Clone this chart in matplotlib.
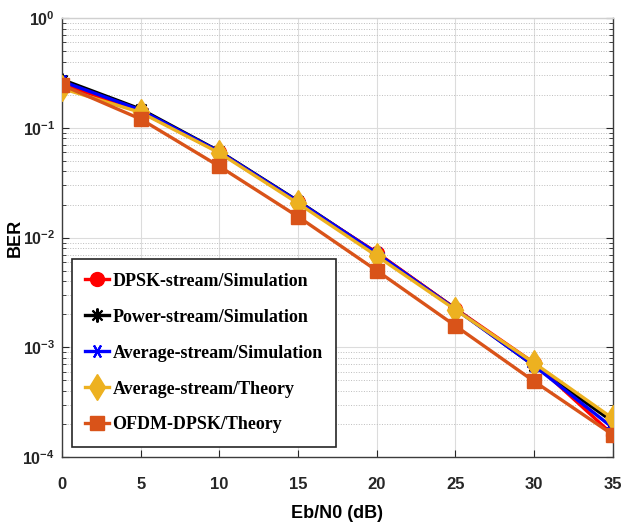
import numpy as np
import matplotlib
matplotlib.use('Agg')
import matplotlib.pyplot as plt

plt.rcParams['mathtext.fontset'] = 'custom'
plt.rcParams['mathtext.rm'] = 'Liberation Sans'
plt.rcParams['mathtext.bf'] = 'Liberation Sans:bold'

# ── Data ─────────────────────────────────────────────────────────────────────
ebn0 = [0, 5, 10, 15, 20, 25, 30, 35]

dpsk_sim  = [0.250, 0.140, 0.0600, 0.0210, 0.0073, 0.00225, 0.00072, 0.000160]
power_sim = [0.275, 0.148, 0.0610, 0.0215, 0.0072, 0.00225, 0.00068, 0.000210]
avg_sim   = [0.265, 0.145, 0.0605, 0.0213, 0.0072, 0.00223, 0.00068, 0.000185]
avg_th    = [0.228, 0.138, 0.0590, 0.0205, 0.0068, 0.00220, 0.00072, 0.000225]
ofdm_th   = [0.245, 0.120, 0.0445, 0.0155, 0.0050, 0.00157, 0.00049, 0.000160]

labels = ['DPSK-stream/Simulation', 'Power-stream/Simulation',
          'Average-stream/Simulation', 'Average-stream/Theory',
          'OFDM-DPSK/Theory']
xticks = [0, 5, 10, 15, 20, 25, 30, 35]
yexps = [0, -1, -2, -3, -4]

# ── Figure ───────────────────────────────────────────────────────────────────
fig = plt.figure(figsize=(6.21, 5.23), dpi=100)
ax = fig.add_axes([0.0998, 0.126, 0.887, 0.8396])

lw = 2.4
ax.plot(ebn0, dpsk_sim, color='#ff0000', lw=lw, marker='o', ms=10,
        label=labels[0], zorder=3)
ax.plot(ebn0, power_sim, color='#000000', lw=lw, marker=(8, 2, 0), ms=10,
        mew=1.5, label=labels[1], zorder=2)
ax.plot(ebn0, avg_sim, color='#0000ff', lw=lw, marker=(6, 2, 90), ms=10,
        mew=1.5, label=labels[2], zorder=3)
ax.plot(ebn0, avg_th, color='#edb120', lw=lw, marker='d', ms=13,
        label=labels[3], zorder=4)
ax.plot(ebn0, ofdm_th, color='#d95319', lw=lw, marker='s', ms=10,
        label=labels[4], zorder=5)

ax.set_yscale('log')
ax.set_xlim(0, 35)
ax.set_ylim(1e-4, 1)
ax.set_xticks(xticks)
ax.set_xticklabels([str(v) for v in xticks], fontsize=12, fontweight='bold',
                   family='Liberation Sans', color='#262626')
ax.set_yticks([10.0 ** e for e in yexps])
ax.set_yticklabels([r'$\mathbf{10^{%d}}$' % e for e in yexps], fontsize=11.5,
                   color='#262626')

ax.grid(True, which='major', color='#dcdcdc', lw=0.8, ls='-')
ax.grid(True, which='minor', axis='y', color='#bdbdbd', lw=0.7, ls=':')
ax.tick_params(which='both', direction='in', top=False, right=True,
               color='#262626')
ax.tick_params(axis='x', which='major', length=5, pad=14)
ax.tick_params(axis='y', which='major', length=5, pad=5)
ax.tick_params(which='minor', length=3)
for s in ax.spines.values():
    s.set_color('#3c3c3c')
    s.set_linewidth(1.0)
ax.spines['top'].set_color('#d0d0d0')

ax.set_xlabel('Eb/N0 (dB)', fontsize=13, fontweight='bold',
              family='Liberation Sans', labelpad=10)
ax.set_ylabel('BER', fontsize=13, fontweight='bold',
              family='Liberation Sans')
ax.yaxis.set_label_coords(-0.069, 0.5)

leg = ax.legend(loc='lower left', bbox_to_anchor=(0.018, 0.023),
                borderaxespad=0,
                prop={'family': 'Liberation Serif', 'weight': 'bold',
                      'size': 13},
                handlelength=1.3, handletextpad=0.2, labelspacing=1.05,
                borderpad=0.75, fancybox=False, framealpha=1,
                edgecolor='#262626')
leg.get_frame().set_linewidth(1.2)

fig.savefig('out.png', dpi=100)
